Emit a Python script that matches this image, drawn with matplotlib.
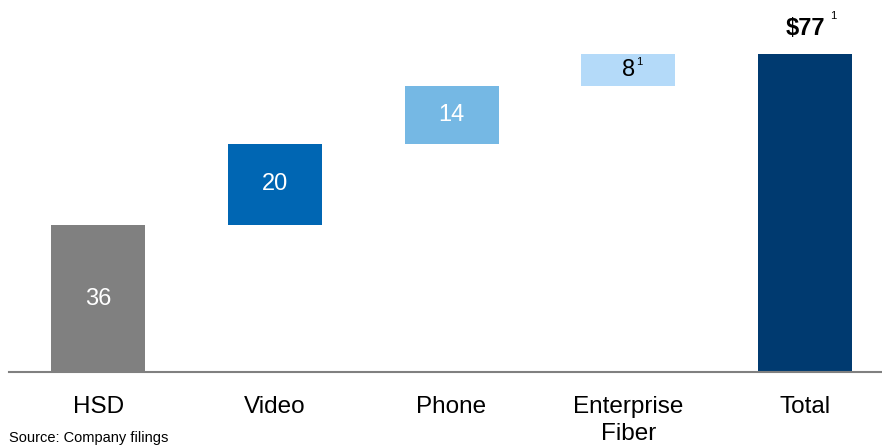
import matplotlib.pyplot as plt
import numpy as np

plt.rcParams['font.family'] = ['Liberation Sans', 'DejaVu Sans']

# data
categories = ['HSD', 'Video', 'Phone', 'Enterprise\nFiber', 'Total']
steps = [36, 20, 14, 8]
total_label = 77
colors = ['#808080', '#0066B3', '#75B8E4', '#B4DAF9', '#003A70']
text_colors = ['white', 'white', 'white', 'black']

bottoms = np.concatenate([[0], np.cumsum(steps)[:-1]])
total_height = np.sum(steps)

fig = plt.figure(figsize=(8.82, 4.45), dpi=100)
ax = fig.add_axes([9 / 882, 73 / 445, 873 / 882, 372 / 445])

x = np.arange(len(categories))
w = 0.532
ax.bar(x[:-1], steps, bottom=bottoms, width=w, color=colors[:-1])
ax.bar(x[-1], total_height, width=w, color=colors[-1])

for i, (v, b) in enumerate(zip(steps, bottoms)):
    ax.text(x[i], b + v / 2, str(v), ha='center', va='center',
            fontsize=17, color=text_colors[i])

# footnote marker on enterprise fiber
ax.annotate('1', xy=(x[3], bottoms[3] + steps[3] / 2), xytext=(6, 2),
            textcoords='offset points', fontsize=8, ha='left', va='bottom')

ax.annotate('$%d' % total_label, xy=(x[-1], total_height), xytext=(0, 10),
            textcoords='offset points', ha='center', va='bottom',
            fontsize=17, fontweight='bold')
ax.annotate('1', xy=(x[-1], total_height), xytext=(18, 24),
            textcoords='offset points', ha='left', va='bottom', fontsize=8)

ax.set_xlim(-0.504, 4.436)
ax.set_ylim(0, 91.2)
ax.set_xticks(x)
ax.set_xticklabels(categories, fontsize=17.5, linespacing=1.3)
ax.tick_params(axis='x', length=0, pad=17)
ax.set_yticks([])
for s in ['top', 'right', 'left']:
    ax.spines[s].set_visible(False)
ax.spines['bottom'].set_color('#808080')
ax.spines['bottom'].set_linewidth(1.5)

fig.text(9 / 882, 1 - 431 / 445, 'Source: Company filings', fontsize=10.5,
         ha='left', va='top')

plt.savefig('out.png', dpi=100)
